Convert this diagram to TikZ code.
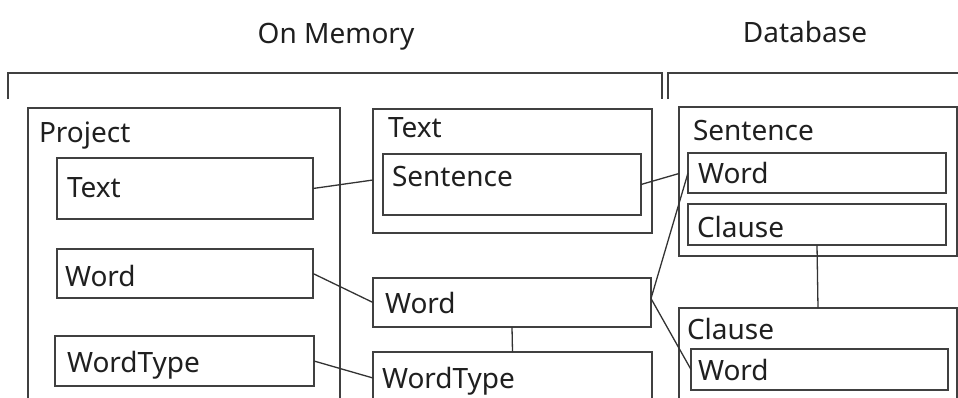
\documentclass[tikz,border=0pt]{standalone}
\usepackage{fontspec}
\setmainfont{Noto Sans}
\begin{document}
\begin{tikzpicture}[x=1pt, y=-1pt,
  frame/.style={draw=black!75, line width=1.5pt},
  box/.style={draw=black!75, line width=1.5pt, rectangle, inner sep=0pt, outer sep=0pt, anchor=north west},
  lbl/.style={anchor=base west, inner sep=0pt, outer sep=0pt, font=\fontsize{28}{31}\selectfont, text=black!88},
  title/.style={anchor=base, inner sep=0pt, outer sep=0pt, font=\fontsize{28}{31}\selectfont, text=black!88},
  link/.style={draw=black!80, line width=1.3pt}]
\useasboundingbox (0,0) rectangle (958,397);
\clip (0,0) rectangle (958,397);

% headings
\node[title] (hmem) at (336,43) {On Memory};
\node[title] (hdb)  at (805,42) {Database};

% brackets under the headings
\draw[frame] (8,99) -- (8,73) -- (662,73) -- (662,99);
\draw[frame] (668,99) -- (668,73) -- (962,73);

% Project (on memory)
\node[box, minimum width=312pt, minimum height=320pt] (proj) at (28,108) {};
\node[lbl] (lproj) at (39,142) {Project};
\node[box, minimum width=256pt, minimum height=61pt] (ptext) at (57,158) {};
\node[lbl] (lptext) at (67,197) {Text};
\node[box, minimum width=256pt, minimum height=49pt] (pword) at (57,249) {};
\node[lbl] (lpword) at (65,286) {Word};
\node[box, minimum width=259pt, minimum height=50pt] (ptype) at (55,336) {};
\node[lbl] (lptype) at (67,372) {WordType};

% Text / Word / WordType (on memory)
\node[box, minimum width=279pt, minimum height=124pt] (tout) at (373,109) {};
\node[lbl] (ltout) at (388,137) {Text};
\node[box, minimum width=258pt, minimum height=61pt] (sent) at (383,154) {};
\node[lbl] (lsent) at (392,186) {Sentence};
\node[box, minimum width=278pt, minimum height=49pt] (mword) at (373,278) {};
\node[lbl] (lmword) at (385,313) {Word};
\node[box, minimum width=279pt, minimum height=52pt] (mtype) at (373,352) {};
\node[lbl] (lmtype) at (382,388) {WordType};

% Sentence / Clause (database)
\node[box, minimum width=278pt, minimum height=149pt] (dbsent) at (679,107) {};
\node[lbl] (ldbsent) at (693,140) {Sentence};
\node[box, minimum width=258pt, minimum height=40pt] (dbword) at (688,153) {};
\node[lbl] (ldbword) at (698,183) {Word};
\node[box, minimum width=258pt, minimum height=41pt] (dbcl) at (688,204) {};
\node[lbl] (ldbcl) at (697,237) {Clause};
\node[box, minimum width=278pt, minimum height=120pt] (clout) at (679,308) {};
\node[lbl] (lclout) at (687,339) {Clause};
\node[box, minimum width=257pt, minimum height=41pt] (cword) at (691,349) {};
\node[lbl] (lcword) at (698,380) {Word};

% connectors
\draw[link] (ptext.east) -- ([yshift=-9pt]tout.west);
\draw[link] (sent.east) -- ([yshift=8pt]dbsent.west);
\draw[link] (pword.east) -- (mword.west);
\draw[link] (ptype.east) -- (mtype.west);
\draw[link] ([yshift=4pt]mword.east) -- (dbword.west);
\draw[link] ([yshift=4pt]mword.east) -- (cword.west);
\draw[link] (mword.south) -- (mtype.north);
\draw[link] (dbcl.south) -- (clout.north);
\end{tikzpicture}
\end{document}
